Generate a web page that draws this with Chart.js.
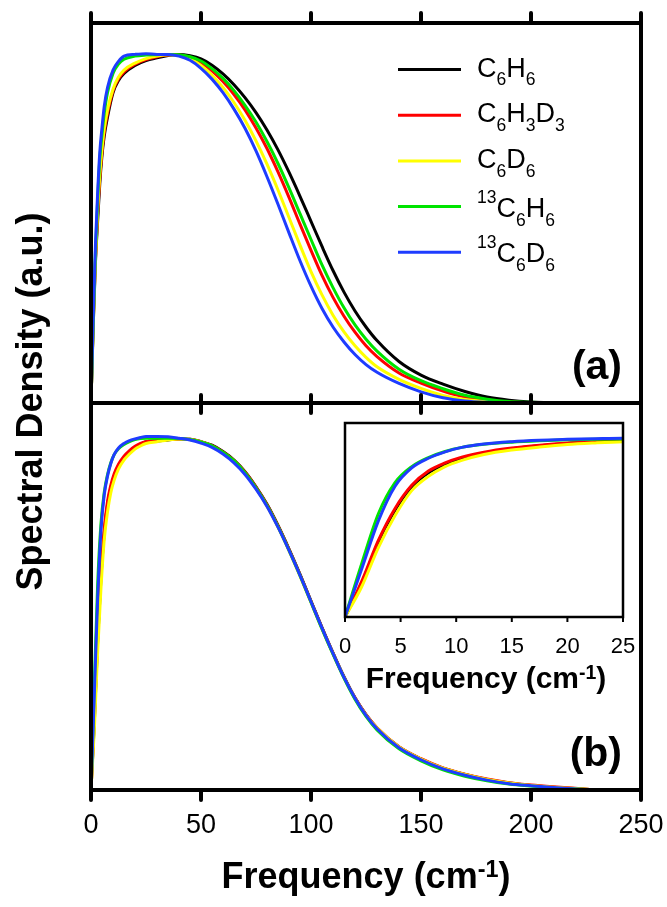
<!DOCTYPE html>
<html>
<head>
<meta charset="utf-8">
<script src="https://cdn.jsdelivr.net/npm/chart.js@4.4.1/dist/chart.umd.min.js"></script>
<style>
  html, body { margin: 0; padding: 0; background: #fff; }
  #wrap { position: relative; width: 667px; height: 907px; overflow: hidden; background: #fff; }
  #wrap canvas { position: absolute; left: 0; top: 0; }
</style>
</head>
<body>
<div id="wrap">
  <canvas id="panelA" width="667" height="907"></canvas>
  <canvas id="panelB" width="667" height="907"></canvas>
  <canvas id="inset" width="667" height="907"></canvas>
</div>
<script>
const FONT = "'Liberation Sans', Arial, Helvetica, sans-serif";
Chart.defaults.font.family = FONT;
Chart.defaults.color = '#000';

// tick positions (cm-1)
const mainTicks = [0, 50, 100, 150, 200, 250];
const insetTicks = [0, 5, 10, 15, 20, 25];

// legend names: _{..} subscript, ^{..} superscript
const species = ['C_{6}H_{6}', 'C_{6}H_{3}D_{3}', 'C_{6}D_{6}', '^{13}C_{6}H_{6}', '^{13}C_{6}D_{6}'];
const lineColors = ['#000000', '#ff0000', '#ffff00', '#00e400', '#1e3cff'];

// (a) spectral densities as computed
const freqA = [0, 1, 2, 3, 4, 5, 6, 7.5, 10, 12.5, 15, 20, 25, 30, 35,
  40, 45, 50, 55, 60, 65, 70, 75, 80, 85, 90, 95, 100, 105, 110, 115, 120, 125, 130,
  140, 150, 160, 170, 180, 190, 200, 210, 220];
const c6h6A = [0, 0.22, 0.40, 0.52, 0.63, 0.71, 0.765, 0.82, 0.89, 0.925, 0.945, 0.968, 0.982, 0.99, 0.997,
  1.0, 0.996, 0.987, 0.969, 0.944, 0.913, 0.876, 0.833, 0.783, 0.726, 0.662, 0.593, 0.521, 0.449, 0.38, 0.318, 0.264, 0.218, 0.179,
  0.119, 0.08, 0.054, 0.033, 0.017, 0.008, 0.003, 0.001, 0];
const c6h3d3A = [0, 0.23, 0.41, 0.54, 0.645, 0.72, 0.775, 0.83, 0.895, 0.93, 0.95, 0.972, 0.985, 0.993, 0.998,
  0.998, 0.991, 0.977, 0.953, 0.922, 0.885, 0.841, 0.789, 0.73, 0.663, 0.59, 0.513, 0.438, 0.366, 0.303, 0.249, 0.203, 0.164, 0.133,
  0.086, 0.057, 0.034, 0.017, 0.008, 0.003, 0.001, 0, 0];
const c6d6A = [0, 0.22, 0.41, 0.55, 0.655, 0.73, 0.785, 0.84, 0.90, 0.935, 0.955, 0.975, 0.988, 0.995, 0.999,
  0.997, 0.988, 0.968, 0.94, 0.905, 0.862, 0.811, 0.752, 0.685, 0.611, 0.532, 0.453, 0.377, 0.31, 0.252, 0.204, 0.164, 0.131, 0.104,
  0.068, 0.042, 0.022, 0.01, 0.004, 0.001, 0, 0, 0];
const c13h6A = [0, 0.23, 0.43, 0.58, 0.70, 0.77, 0.83, 0.89, 0.945, 0.972, 0.986, 0.995, 0.998, 0.999, 1.0,
  0.999, 0.993, 0.981, 0.959, 0.931, 0.896, 0.854, 0.806, 0.75, 0.687, 0.617, 0.543, 0.469, 0.396, 0.331, 0.273, 0.224, 0.183, 0.149,
  0.097, 0.064, 0.041, 0.022, 0.011, 0.004, 0.002, 0, 0];
const c13d6A = [0, 0.24, 0.45, 0.60, 0.72, 0.79, 0.85, 0.905, 0.955, 0.98, 0.995, 1.0, 1.002, 1.0, 1.0,
  0.995, 0.983, 0.96, 0.929, 0.89, 0.843, 0.788, 0.723, 0.649, 0.57, 0.488, 0.408, 0.335, 0.271, 0.218, 0.175, 0.139, 0.11, 0.088,
  0.056, 0.032, 0.015, 0.006, 0.002, 0, 0, 0, 0];

// (b) mass-scaled spectral densities (also shown in the inset)
const freqB = [0, 1.5, 3, 4.5, 6, 7.5, 9, 10.5, 12.5, 15, 17.5, 20, 22.5, 25,
  30, 35, 40, 45, 50, 55, 60, 65, 70, 75, 80, 85, 90, 95, 100, 105, 110, 115, 120, 125, 130,
  140, 150, 160, 170, 180, 190, 200, 210, 220, 230];
const c6h6B = [0, 0.19, 0.42, 0.60, 0.73, 0.81, 0.858, 0.892, 0.922, 0.945, 0.962, 0.975, 0.983, 0.99,
  0.992, 0.995, 0.998, 0.997, 0.99, 0.98, 0.962, 0.938, 0.905, 0.862, 0.812, 0.752, 0.685, 0.613, 0.537, 0.462, 0.39, 0.322, 0.262, 0.214, 0.176,
  0.122, 0.088, 0.062, 0.044, 0.03, 0.02, 0.013, 0.008, 0.004, 0];
const c6h3d3B = [0, 0.2, 0.43, 0.61, 0.74, 0.82, 0.866, 0.898, 0.926, 0.949, 0.965, 0.977, 0.985, 0.99,
  0.993, 0.996, 0.998, 0.997, 0.99, 0.979, 0.961, 0.937, 0.904, 0.861, 0.811, 0.751, 0.684, 0.612, 0.536, 0.461, 0.389, 0.321, 0.262, 0.214, 0.177,
  0.123, 0.089, 0.063, 0.045, 0.031, 0.021, 0.014, 0.009, 0.005, 0];
const c6d6B = [0, 0.17, 0.39, 0.57, 0.71, 0.79, 0.845, 0.88, 0.913, 0.938, 0.955, 0.969, 0.978, 0.985,
  0.99, 0.995, 0.998, 0.996, 0.989, 0.977, 0.958, 0.934, 0.9, 0.857, 0.807, 0.747, 0.68, 0.608, 0.533, 0.458, 0.387, 0.32, 0.26, 0.213, 0.176,
  0.122, 0.088, 0.062, 0.044, 0.03, 0.02, 0.013, 0.008, 0.004, 0];
const c13h6B = [0, 0.3, 0.58, 0.755, 0.845, 0.896, 0.93, 0.953, 0.97, 0.982, 0.99, 0.996, 0.999, 1.0,
  1.0, 1.0, 0.999, 0.996, 0.989, 0.978, 0.96, 0.936, 0.902, 0.859, 0.809, 0.749, 0.682, 0.61, 0.534, 0.458, 0.386, 0.318, 0.258, 0.209, 0.171,
  0.117, 0.083, 0.057, 0.039, 0.026, 0.017, 0.011, 0.006, 0.003, 0];
const c13d6B = [0, 0.27, 0.54, 0.735, 0.838, 0.892, 0.928, 0.953, 0.972, 0.985, 0.993, 0.998, 1.002, 1.005,
  1.005, 1.004, 1.0, 0.995, 0.986, 0.974, 0.955, 0.93, 0.897, 0.855, 0.806, 0.747, 0.681, 0.61, 0.535, 0.46, 0.388, 0.32, 0.261, 0.212, 0.174,
  0.12, 0.086, 0.06, 0.042, 0.028, 0.018, 0.012, 0.007, 0.003, 0];

function makeSets(freq, series) {
  return series.map((vals, i) => ({
    label: species[i],
    data: vals.map((v, k) => ({ x: freq[k], y: v })),
    borderColor: lineColors[i],
    borderWidth: 3,
    pointRadius: 0,
    fill: false,
    cubicInterpolationMode: 'monotone',
    order: series.length - i   // blue ends up on top
  }));
}

// text with _{sub} and ^{sup} pieces
function richParts(text) {
  return [...text.matchAll(/([_^])\{([^}]*)\}|([^_^]+)/g)].map(m =>
    m[1] ? { str: m[2], kind: m[1] } : { str: m[3], kind: '' });
}
function drawRich(ctx, text, x, y, size, weight, supRise, draw = true) {
  for (const p of richParts(text)) {
    let fs = size, dy = 0;
    if (p.kind === '_') { fs = size * 0.65; dy = size * 0.33; }
    if (p.kind === '^') { fs = size * 0.65; dy = -size * supRise; }
    ctx.font = `${weight} ${fs}px ${FONT}`;
    if (draw) ctx.fillText(p.str, x, y + dy);
    x += ctx.measureText(p.str).width;
  }
  return x;
}

// box around the plot area plus outward tick marks
const frame = {
  id: 'frame',
  afterDatasetsDraw(chart, args, o) {
    const { ctx, chartArea: a } = chart;
    const x = chart.scales.x;
    ctx.save();
    ctx.strokeStyle = '#000';
    ctx.lineWidth = o.width;
    ctx.strokeRect(a.left, a.top, a.right - a.left, a.bottom - a.top);
    ctx.lineWidth = o.tickWidth;
    ctx.lineCap = o.cap || 'butt';
    ctx.beginPath();
    o.ticks.forEach(v => {
      const px = x.getPixelForValue(v);
      if (o.up) { ctx.moveTo(px, a.top); ctx.lineTo(px, a.top - o.up); }
      if (o.down) { ctx.moveTo(px, a.bottom); ctx.lineTo(px, a.bottom + o.down); }
    });
    ctx.stroke();
    ctx.restore();
  }
};

const texts = {
  id: 'texts',
  afterDraw(chart, args, o) {
    const ctx = chart.ctx;
    (o.items || []).forEach(t => {
      ctx.save();
      ctx.fillStyle = '#000';
      ctx.textAlign = 'left';
      ctx.textBaseline = 'alphabetic';
      ctx.translate(t.x, t.y);
      if (t.rotate) ctx.rotate(t.rotate);
      const w = drawRich(ctx, t.text, 0, 0, t.size, t.weight, 0.3, false);
      const x0 = t.align === 'center' ? -w / 2 : t.align === 'right' ? -w : 0;
      drawRich(ctx, t.text, x0, 0, t.size, t.weight, 0.3);
      ctx.restore();
    });
  }
};

const legendBox = {
  id: 'legendBox',
  afterDraw(chart, args, o) {
    const ctx = chart.ctx;
    ctx.save();
    species.forEach((name, i) => {
      const y = o.top + i * o.step;
      ctx.strokeStyle = lineColors[i];
      ctx.lineWidth = 3;
      ctx.beginPath();
      ctx.moveTo(o.x0, y);
      ctx.lineTo(o.x1, y);
      ctx.stroke();
      ctx.fillStyle = '#000';
      drawRich(ctx, name, o.textX, y + (name.startsWith('^') ? 10 : 7), o.size, 'normal', 0.52);
    });
    ctx.restore();
  }
};

// bottom axis that only shows labels; the invisible tick length sets the label gap
function labelAxis(max, ticks, height, fontSize, gap) {
  return {
    type: 'linear', min: 0, max,
    afterBuildTicks: s => { s.ticks = ticks.map(v => ({ value: v })); },
    afterFit: s => { s.height = height; },
    grid: { display: true, drawOnChartArea: false, drawTicks: true, tickLength: gap, color: 'rgba(0,0,0,0)' },
    border: { display: false },
    ticks: { font: { size: fontSize, lineHeight: 1 }, color: '#000', padding: 0, maxRotation: 0, autoSkip: false }
  };
}

const common = {
  responsive: false,
  animation: false,
  events: []
};

// panel (a)
new Chart(document.getElementById('panelA'), {
  type: 'line',
  data: { datasets: makeSets(freqA, [c6h6A, c6h3d3A, c6d6A, c13h6A, c13d6A]) },
  options: {
    ...common,
    layout: { padding: { left: 91, right: 26, top: 23, bottom: 504 } },
    scales: {
      x: { type: 'linear', min: 0, max: 250, display: false },
      y: { min: 0, max: 1.09, display: false }
    },
    plugins: {
      legend: { display: false },
      tooltip: { enabled: false },
      frame: { width: 4, tickWidth: 4, cap: 'round', ticks: mainTicks, up: 10, down: 10 },
      legendBox: { x0: 398, x1: 461, textX: 477, top: 69.5, step: 45.7, size: 27 },
      texts: { items: [{ text: '(a)', x: 622, y: 379, size: 41, weight: 'bold', align: 'right' }] }
    }
  },
  plugins: [frame, legendBox, texts]
});

// panel (b)
new Chart(document.getElementById('panelB'), {
  type: 'line',
  data: { datasets: makeSets(freqB, [c6h6B, c6h3d3B, c6d6B, c13h6B, c13d6B]) },
  options: {
    ...common,
    layout: { padding: { left: 91, right: 26, top: 403, bottom: 0 } },
    scales: {
      x: labelAxis(250, mainTicks, 117, 27, 22),
      y: { min: 0, max: 1.1, display: false }
    },
    plugins: {
      legend: { display: false },
      tooltip: { enabled: false },
      frame: { width: 4, tickWidth: 4, cap: 'round', ticks: mainTicks, up: 8, down: 10 },
      texts: { items: [
        { text: '(b)', x: 622, y: 766, size: 41, weight: 'bold', align: 'right' },
        { text: 'Frequency (cm^{-1})', x: 366, y: 888, size: 36, weight: 'bold', align: 'center' },
        { text: 'Spectral Density (a.u.)', x: 42, y: 401.5, size: 36, weight: 'bold', align: 'center', rotate: -Math.PI / 2 }
      ] }
    }
  },
  plugins: [frame, texts]
});

// inset: low-frequency part of (b)
new Chart(document.getElementById('inset'), {
  type: 'line',
  data: { datasets: makeSets(freqB, [c6h6B, c6h3d3B, c6d6B, c13h6B, c13d6B]) },
  options: {
    ...common,
    layout: { padding: { left: 345, right: 44, top: 423, bottom: 0 } },
    scales: {
      x: labelAxis(25, insetTicks, 290, 22, 19),
      y: { min: 0, max: 1.09, display: false }
    },
    plugins: {
      legend: { display: false },
      tooltip: { enabled: false },
      frame: { width: 2.5, tickWidth: 2, ticks: insetTicks, up: 0, down: 5 },
      texts: { items: [
        { text: 'Frequency (cm^{-1})', x: 486, y: 688, size: 30, weight: 'bold', align: 'center' }
      ] }
    }
  },
  plugins: [frame, texts]
});
</script>
</body>
</html>
